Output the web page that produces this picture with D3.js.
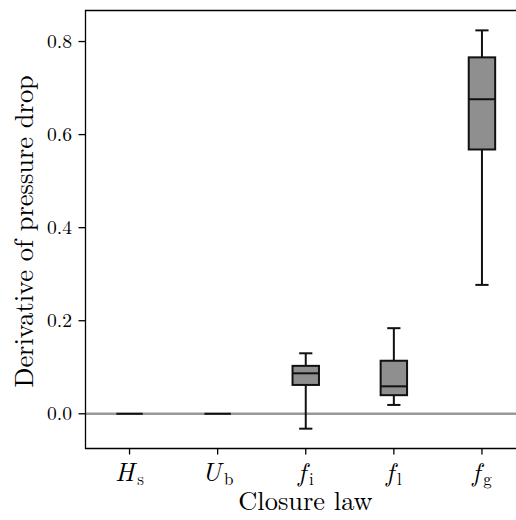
<!DOCTYPE html>
<html><head><meta charset="utf-8">
<script src="https://cdn.jsdelivr.net/npm/d3@7"></script>
<style>body{margin:0;background:#fff}svg{display:block}</style>
</head><body>
<svg id="c" width="516" height="520" font-family="Latin Modern Roman"></svg>
<script>
const categories = [{main:"H",sub:"s"},{main:"U",sub:"b"},{main:"f",sub:"i"},{main:"f",sub:"l"},{main:"f",sub:"g"}];
const whiskerLow  = [0, 0, -0.032, 0.019, 0.277];
const q1          = [0, 0, 0.062, 0.040, 0.568];
const medians     = [0, 0, 0.087, 0.059, 0.676];
const q3          = [0, 0, 0.103, 0.114, 0.766];
const whiskerHigh = [0, 0, 0.130, 0.184, 0.824];
const yTicks = [0.0, 0.2, 0.4, 0.6, 0.8];
const xLabel = "Closure law";
const yLabel = "Derivative of pressure drop";

const svg = d3.select("#c");
const L = 85.5, T = 10.5, B = 448.5, R = 526;
const x = d3.scaleLinear().domain([-0.5, 4.5]).range([L, R]);
const y = d3.scaleLinear().domain([-0.0746, 0.8667]).range([B, T]);

// zero line
svg.append("line").attr("x1", L).attr("x2", R).attr("y1", y(0)).attr("y2", y(0))
  .attr("stroke", "#999").attr("stroke-width", 2.5);

const bw = 0.15, cw = 0.075;
categories.forEach((c, i) => {
  const g = svg.append("g");
  const cx = x(i);
  const ln = (x1, y1, x2, y2) => g.append("line").attr("x1", x1).attr("y1", y1).attr("x2", x2).attr("y2", y2)
    .attr("stroke", "#111").attr("stroke-width", 2);
  if (whiskerHigh[i] !== q3[i]) {
    ln(cx, y(q3[i]), cx, y(whiskerHigh[i]));
    ln(x(i - cw), y(whiskerHigh[i]), x(i + cw), y(whiskerHigh[i]));
  }
  if (whiskerLow[i] !== q1[i]) {
    ln(cx, y(q1[i]), cx, y(whiskerLow[i]));
    ln(x(i - cw), y(whiskerLow[i]), x(i + cw), y(whiskerLow[i]));
  }
  g.append("rect").attr("x", x(i - bw)).attr("width", x(i + bw) - x(i - bw))
    .attr("y", y(q3[i])).attr("height", Math.max(0, y(q1[i]) - y(q3[i])))
    .attr("fill", "#8f8f8f").attr("stroke", "#111").attr("stroke-width", 2);
  ln(x(i - bw), y(medians[i]), x(i + bw), y(medians[i]));
});

// spines
svg.append("path").attr("d", `M${R},${T}H${L}V${B}H${R}`).attr("fill", "none")
  .attr("stroke", "#000").attr("stroke-width", 1.3);

// y axis
const ya = svg.append("g");
yTicks.forEach(t => {
  ya.append("line").attr("x1", L - 7).attr("x2", L).attr("y1", y(t)).attr("y2", y(t))
    .attr("stroke", "#000").attr("stroke-width", 1.3);
  ya.append("text").attr("x", 72).attr("y", y(t)).attr("dy", "0.33em")
    .attr("text-anchor", "end").attr("font-size", 19.6).text(d3.format(".1f")(t));
});
// x axis
categories.forEach((c, i) => {
  svg.append("line").attr("x1", x(i)).attr("x2", x(i)).attr("y1", B).attr("y2", B + 6)
    .attr("stroke", "#000").attr("stroke-width", 1.3);
  const t = svg.append("text").attr("x", x(i)).attr("y", 481).attr("text-anchor", "middle");
  t.append("tspan").attr("font-style", "italic").attr("font-size", 26).text(c.main);
  t.append("tspan").attr("font-size", 17).attr("dx", 3).attr("dy", 3.5).text(c.sub);
});
svg.append("text").attr("x", 305.5).attr("y", 510).attr("text-anchor", "middle").attr("font-size", 26.4).text(xLabel);
svg.append("text").attr("transform", "translate(32.5,231.5) rotate(-90)").attr("text-anchor", "middle")
  .attr("font-size", 26.4).text(yLabel);
</script>
</body></html>
